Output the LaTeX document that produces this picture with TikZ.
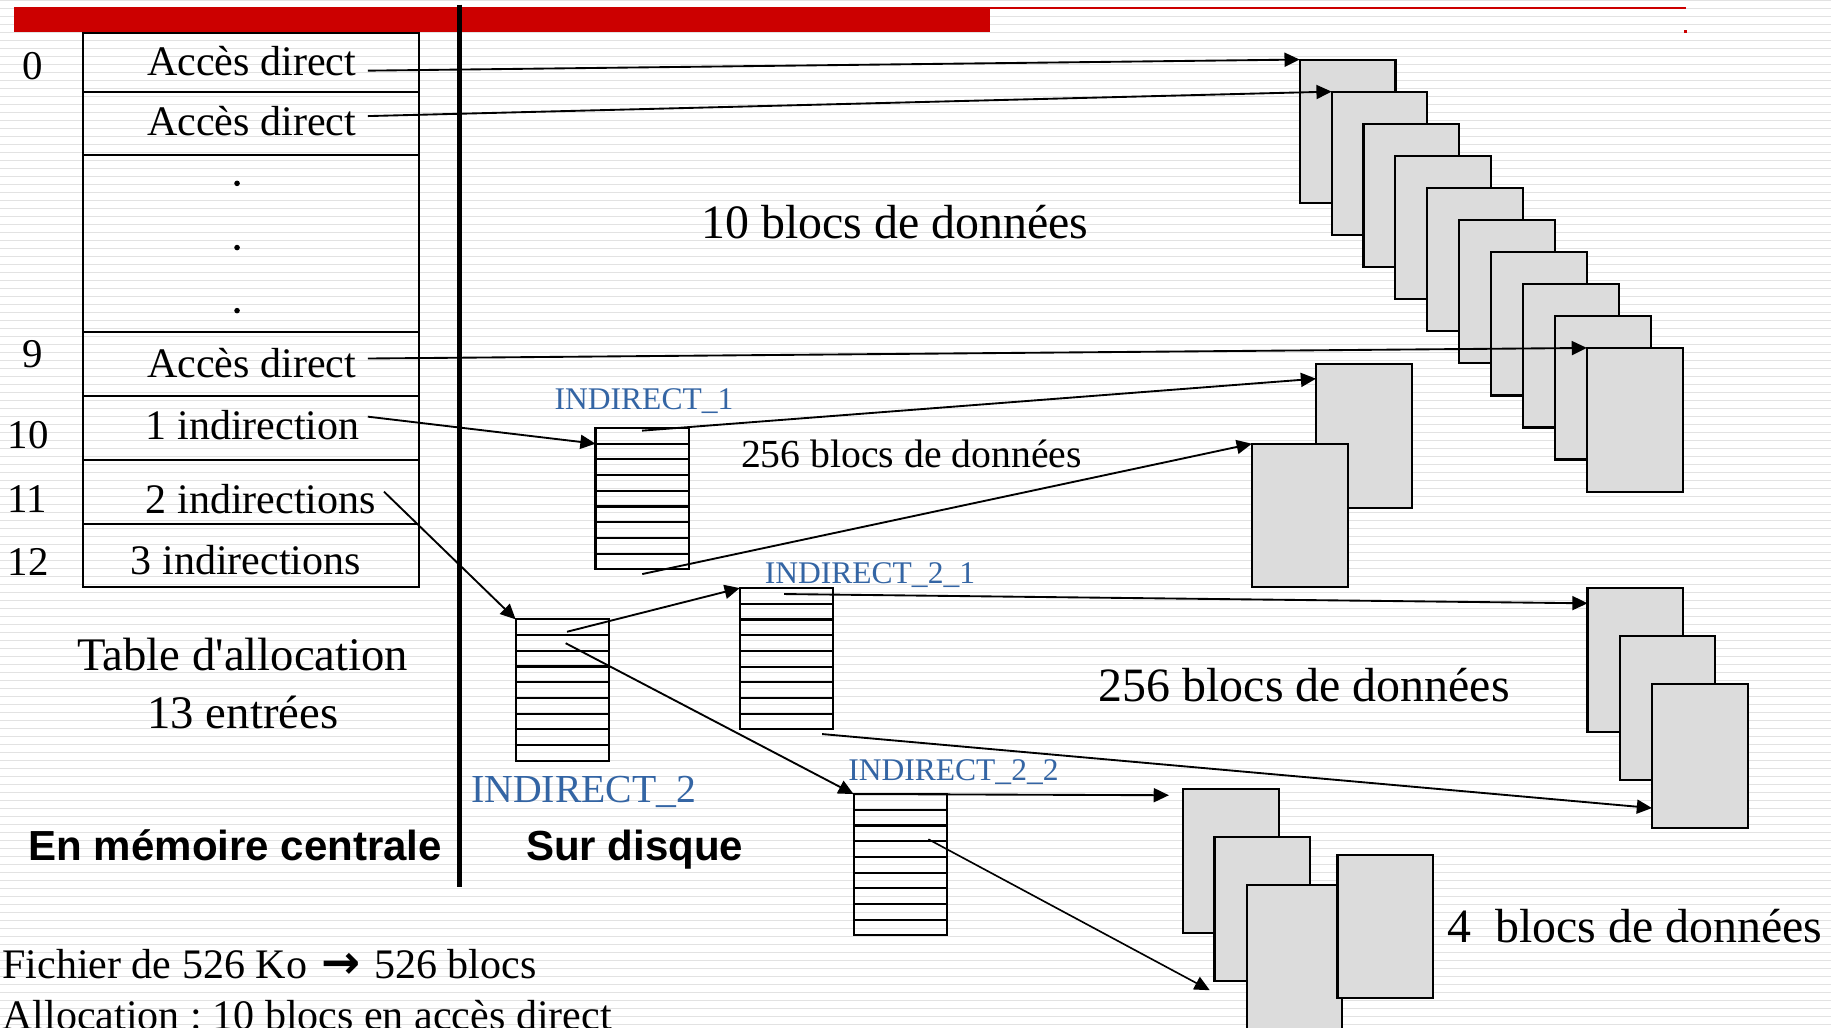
\documentclass[tikz,border=0pt]{standalone}
\usepackage{fontspec}
\setmainfont{Liberation Serif}
\newfontfamily\lsans{Liberation Sans}
\newfontfamily\djv{DejaVu Sans}
\usetikzlibrary{arrows.meta,calc}
\definecolor{barred}{RGB}{204,0,0}
\definecolor{blkgray}{RGB}{220,220,220}
\definecolor{stripe}{RGB}{226,226,226}
\definecolor{idxblue}{RGB}{52,101,164}
\newcommand\mysz[1]{\fontsize{#1}{#1}\selectfont}
\frenchspacing
\begin{document}
\begin{tikzpicture}[x=0.5pt,y=-0.5pt,
  lbl/.style={inner sep=0pt,outer sep=0pt},
  rowbox/.style={draw,line width=0.9pt,minimum width=144pt,inner sep=0pt,outer sep=0pt,anchor=north west},
  blk/.style={draw,fill=blkgray,line width=0.9pt,minimum width=41pt,minimum height=61.5pt,inner sep=0pt,outer sep=0pt,anchor=north west},
  idx/.style={draw,line width=0.9pt,minimum width=40pt,minimum height=60.5pt,inner sep=0pt,outer sep=0pt,anchor=north west},
  idxline/.style={line width=0.9pt},
  arr/.style={-{Triangle[length=6.5pt,width=6pt]},line width=0.8pt},
  idxlbl/.style={lbl,anchor=base,text=idxblue}]
\useasboundingbox (0,0) rectangle (1568,880);
\clip (0,0) rectangle (1568,880);
\fill[white] (0,0) rectangle (1568,880);
\foreach \k in {0,...,129}
  \draw[stripe,line width=0.65pt] (0,{(8*\k+0.5)/1.1677}) -- (1568,{(8*\k+0.5)/1.1677});
% red bar
\fill[barred] (12,6) rectangle (848,27);
\draw[barred,line width=0.7pt] (848,7) -- (1444,7);
\fill[barred] (1442.5,25.5) rectangle (1445,28);
% divider
\draw[line width=2.5pt] (393.5,4) -- (393.5,760);
% table
\node[rowbox,minimum height=25.5pt] (r0) at (71,28) {};
\node[rowbox,minimum height=27pt] (r1) at (71,79) {};
\node[rowbox,minimum height=75.5pt] (rd) at (71,133) {};
\node[rowbox,minimum height=27.5pt] (r9) at (71,284) {};
\node[rowbox,minimum height=27.5pt] (r10) at (71,339) {};
\node[rowbox,minimum height=27.5pt] (r11) at (71,394) {};
\node[rowbox,minimum height=27pt] (r12) at (71,449) {};
\fill (203,157) circle (2.4);
\fill (203,212) circle (2.4);
\fill (203,266) circle (2.4);
\node[lbl,anchor=base west,font=\mysz{18}] (t0) at (126,65) {Accès direct};
\node[lbl,anchor=base west,font=\mysz{18}] (t1) at (126,115.6) {Accès direct};
\node[lbl,anchor=base west,font=\mysz{18}] (t9) at (126,323.4) {Accès direct};
\node[lbl,anchor=base west,font=\mysz{18}] (t10) at (125,376) {1 indirection};
\node[lbl,anchor=base west,font=\mysz{18}] (t11) at (125,440) {2 indirections};
\node[lbl,anchor=base west,font=\mysz{18}] (t12) at (112,491.6) {3 indirections};
\node[lbl,anchor=base west,font=\mysz{17.5}] (n0) at (19,68.5) {0};
\node[lbl,anchor=base west,font=\mysz{17.5}] (n9) at (19,315) {9};
\node[lbl,anchor=base west,font=\mysz{17.5}] (n10) at (6.5,384) {10};
\node[lbl,anchor=base west,font=\mysz{17.5}] (n11) at (6.5,439) {11};
\node[lbl,anchor=base west,font=\mysz{17.5}] (n12) at (6.5,493) {12};
\node[lbl,anchor=base,font=\mysz{20}] (tab1) at (208,574) {Table d\textquotesingle allocation};
\node[lbl,anchor=base,font=\mysz{20}] (tab2) at (208,624) {13 entrées};
% data blocks, 10
\foreach \i in {1,...,10}
  \node[blk] (b\i) at ({1113+27.33*(\i-1)},{51+27.44*(\i-1)}) {};
% 256 blocks (1 indirection)
\node[blk] (B1) at (1127,312) {};
\node[blk] (B2) at (1072,380) {};
% 256 blocks (2_1)
\node[blk] (C1) at (1359.5,503.6) {};
\node[blk] (C2) at (1387,544.7) {};
\node[blk] (C3) at (1414.7,585.8) {};
% 4 blocks (2_2)
\node[blk] (D1) at (1013,675.7) {};
\node[blk] (D2) at (1040,716.8) {};
\node[blk] (D3) at (1067.6,758) {};
\node[blk] (D4) at (1145.4,732) {};
% index blocks
\node[idx] (I1) at (510,366.5) {};
\node[idx] (I2) at (441.6,530.4) {};
\node[idx] (I21) at (633.5,503.6) {};
\node[idx] (I22) at (731,680) {};
\foreach \n in {I1,I2,I21,I22}
  \foreach \k in {1,...,8}
    \draw[idxline] ($(\n.north west)!\k/9!(\n.south west)$) -- ($(\n.north east)!\k/9!(\n.south east)$);
% labels
\node[lbl,anchor=base,font=\mysz{20.5}] (lab10) at (766.5,204) {10 blocs de données};
\node[lbl,anchor=base,font=\mysz{17}] (lab256a) at (780.5,400) {256 blocs de données};
\node[lbl,anchor=base,font=\mysz{20.5}] (lab256b) at (1117,601) {256 blocs de données};
\node[lbl,anchor=base,font=\mysz{20.5}] (lab4) at (1400,807) {4~~blocs de données};
\node[idxlbl,font=\mysz{13.5}] (lI1) at (551.5,351) {INDIRECT\_1};
\node[idxlbl,font=\mysz{13.5}] (lI21) at (745,500) {INDIRECT\_2\_1};
\node[idxlbl,font=\mysz{13.5}] (lI22) at (816.5,668) {INDIRECT\_2\_2};
\node[idxlbl,font=\mysz{17}] (lI2) at (500,687) {INDIRECT\_2};
\node[lbl,anchor=base,font=\lsans\bfseries\mysz{18}] (mem) at (201.5,737) {En mémoire centrale};
\node[lbl,anchor=base,font=\lsans\bfseries\mysz{18}] (disk) at (543.5,737) {Sur disque};
\node[lbl,anchor=base west,font=\mysz{18}] (f1) at (2,838) {Fichier de 526 Ko\hspace{6pt}{\djv\bfseries\mysz{20}→}\hspace{6pt}526 blocs};
\node[lbl,anchor=base west,font=\mysz{18}] (f2) at (2,882) {Allocation : 10 blocs en accès direct};
% connectors
\coordinate (s0) at (315,60.5);
\coordinate (s1) at (315,99.4);
\coordinate (s9) at (315,307);
\coordinate (s10) at (315,356.8);
\coordinate (s11) at (328.8,421);
\coordinate (s1a) at (549.8,368.8);
\coordinate (s1b) at (550,491.6);
\coordinate (s2a) at (485.6,541);
\coordinate (s2b) at (484.4,550.8);
\coordinate (s21a) at (671.5,508.7);
\coordinate (s21b) at (704,628.6);
\coordinate (s22b) at (795,718.7);
\coordinate (e22a) at (1001,681);
\coordinate (e22b) at (1036,848);
\draw[arr] (s0) -- (b1.north west);
\draw[arr] (s1) -- (b2.north west);
\draw[arr] (s9) -- (b10.north west);
\draw[arr] (s10) -- ($(I1.north west)!1/9!(I1.south west)$);
\draw[arr] (s11) -- (I2.north west);
\draw[arr] (s1a) -- ($(B1.north west)!0.1!(B1.south west)$);
\draw[arr] (s1b) -- (B2.north west);
\draw[arr] (s2a) -- (I21.north west);
\draw[arr] (s2b) -- (I22.north west);
\draw[arr] (s21a) -- ($(C1.north west)!0.106!(C1.south west)$);
\draw[arr] (s21b) -- ($(C3.north west)!0.863!(C3.south west)$);
\draw[arr] (I22.north west) -- (e22a);
\draw[arr,line width=0.7pt] (s22b) -- (e22b);
\end{tikzpicture}
\end{document}
